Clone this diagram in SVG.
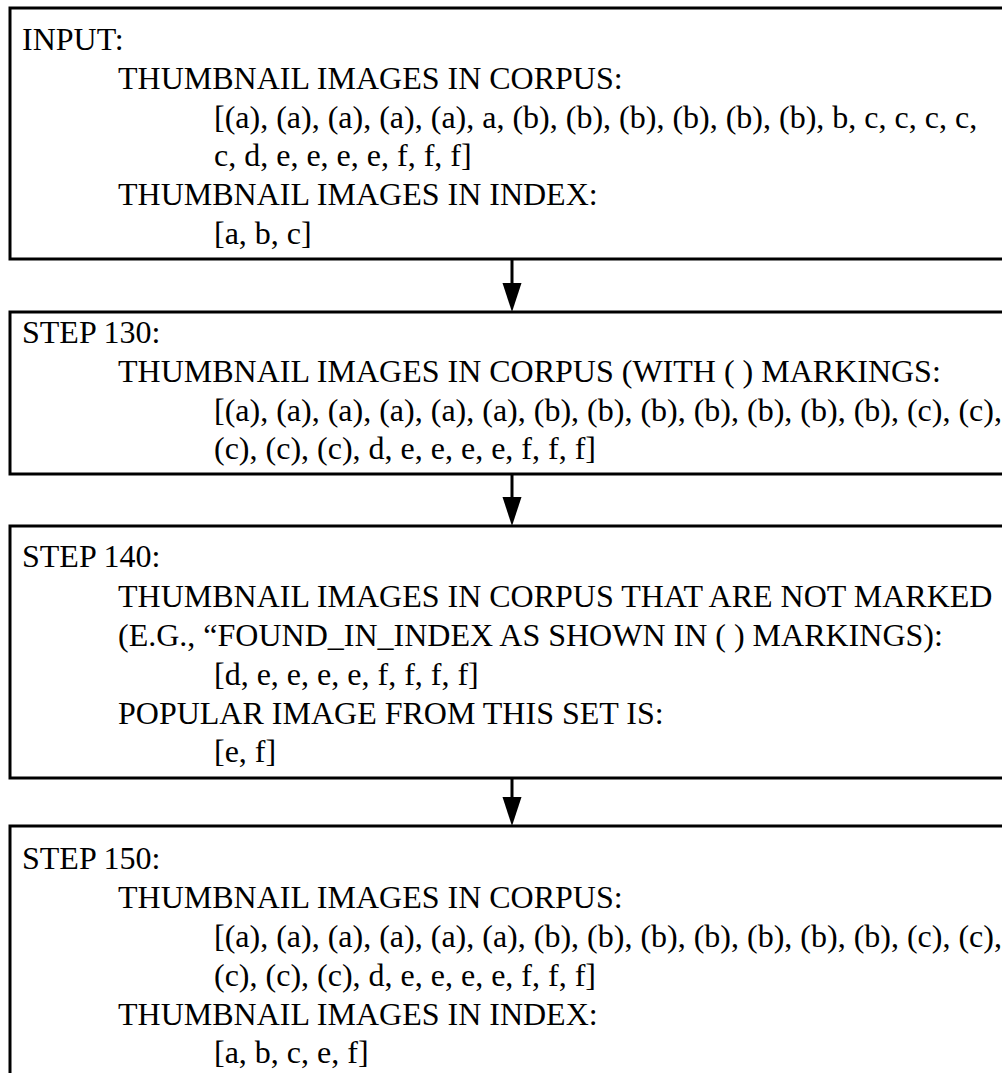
<svg xmlns="http://www.w3.org/2000/svg" width="1002" height="1073" viewBox="0 0 1002 1073">
<style>
.box{fill:#fff;stroke:#000;stroke-width:3}
.t{font-family:"Liberation Serif","Times New Roman",serif;font-size:32px;fill:#000}
.shaft{stroke:#000;stroke-width:3;fill:none}
.head{fill:#000}
</style>
<rect width="1002" height="1073" fill="#fff"/>
<g id="input">
<rect class="box" x="10" y="8" width="1010" height="251"/>
<text class="t" x="22" y="50">INPUT:</text>
<text class="t" x="118" y="89">THUMBNAIL IMAGES IN CORPUS:</text>
<text class="t" x="214" y="128">[(a), (a), (a), (a), (a), a, (b), (b), (b), (b), (b), (b), b, c, c, c, c,</text>
<text class="t" x="214" y="166">c, d, e, e, e, e, f, f, f]</text>
<text class="t" x="118" y="205">THUMBNAIL IMAGES IN INDEX:</text>
<text class="t" x="214" y="244">[a, b, c]</text>
</g>
<g id="step130">
<rect class="box" x="10" y="312" width="1010" height="162"/>
<text class="t" x="22" y="343">STEP 130:</text>
<text class="t" x="118" y="382">THUMBNAIL IMAGES IN CORPUS (WITH ( ) MARKINGS:</text>
<text class="t" x="214" y="421">[(a), (a), (a), (a), (a), (a), (b), (b), (b), (b), (b), (b), (b), (c), (c),</text>
<text class="t" x="214" y="459">(c), (c), (c), d, e, e, e, e, f, f, f]</text>
</g>
<g id="step140">
<rect class="box" x="10" y="526" width="1010" height="252"/>
<text class="t" x="22" y="567">STEP 140:</text>
<text class="t" x="118" y="607">THUMBNAIL IMAGES IN CORPUS THAT ARE NOT MARKED</text>
<text class="t" x="118" y="646">(E.G., “FOUND_IN_INDEX AS SHOWN IN ( ) MARKINGS):</text>
<text class="t" x="214" y="685">[d, e, e, e, e, f, f, f, f]</text>
<text class="t" x="118" y="724">POPULAR IMAGE FROM THIS SET IS:</text>
<text class="t" x="214" y="762">[e, f]</text>
</g>
<g id="step150">
<rect class="box" x="10" y="826" width="1010" height="260"/>
<text class="t" x="22" y="869">STEP 150:</text>
<text class="t" x="118" y="908">THUMBNAIL IMAGES IN CORPUS:</text>
<text class="t" x="214" y="947">[(a), (a), (a), (a), (a), (a), (b), (b), (b), (b), (b), (b), (b), (c), (c),</text>
<text class="t" x="214" y="986">(c), (c), (c), d, e, e, e, e, f, f, f]</text>
<text class="t" x="118" y="1025">THUMBNAIL IMAGES IN INDEX:</text>
<text class="t" x="214" y="1063">[a, b, c, e, f]</text>
</g>
<g id="connectors">
<line class="shaft" x1="512" y1="259" x2="512" y2="285"/>
<polygon class="head" points="502.5,283 521.5,283 512,312"/>
<line class="shaft" x1="512" y1="474" x2="512" y2="499"/>
<polygon class="head" points="502.5,497 521.5,497 512,526"/>
<line class="shaft" x1="512" y1="778" x2="512" y2="799"/>
<polygon class="head" points="502.5,797 521.5,797 512,826"/>
</g>
</svg>
